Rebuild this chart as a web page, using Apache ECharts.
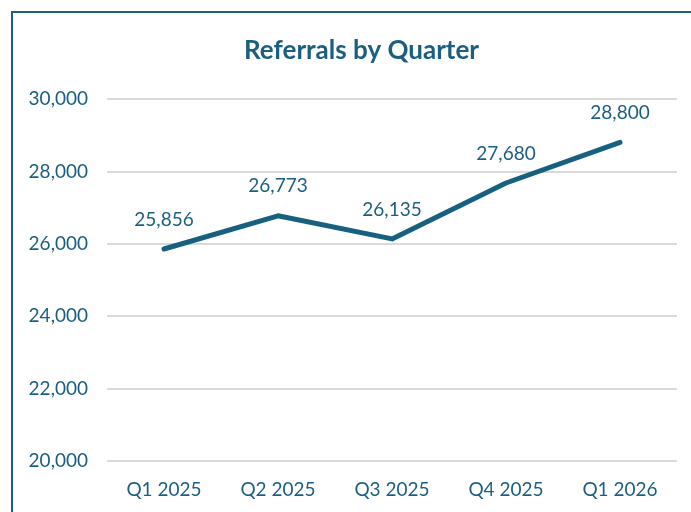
<!DOCTYPE html>
<html><head><meta charset="utf-8">
<script src="https://cdn.jsdelivr.net/npm/echarts@6/dist/echarts.min.js"></script>
<style>html,body{margin:0;padding:0;background:#fff}#c{width:691px;height:512px}
#frame{position:absolute;left:11px;top:11px;width:700px;height:520px;border:2px solid #1f5f80;box-sizing:border-box;pointer-events:none}</style>
</head><body><div id="c"></div><div id="frame"></div>
<script>
const categories = ['Q1 2025','Q2 2025','Q3 2025','Q4 2025','Q1 2026'];
const referrals = [25856, 26773, 26135, 27680, 28800];
const yTicks = {min: 20000, max: 30000, interval: 2000};
const col = '#1b5f80';
const font = 'Lato, "Open Sans", sans-serif';
const chart = echarts.init(document.getElementById('c'));
chart.setOption({
  animation: false,
  title: {text: 'Referrals by Quarter', left: 239, top: 33,
    textStyle: {color: col, fontSize: 26, fontWeight: 'bold', fontFamily: font}},
  grid: {left: 107, right: 14, top: 99, bottom: 51},
  xAxis: {type: 'category', data: categories, boundaryGap: true,
    axisLine: {show: false}, axisTick: {show: false},
    axisLabel: {color: col, fontSize: 19, fontFamily: font, margin: 19}},
  yAxis: {type: 'value', min: yTicks.min, max: yTicks.max, interval: yTicks.interval,
    axisLine: {show: false}, axisTick: {show: false},
    axisLabel: {color: col, fontSize: 19, fontFamily: font, margin: 19,
      formatter: v => v.toLocaleString('en-US')},
    splitLine: {lineStyle: {color: '#d9d9d9', width: 2}}},
  series: [{type: 'line', data: referrals, symbol: 'circle', symbolSize: 2,
    itemStyle: {color: 'rgba(0,0,0,0)', borderWidth: 0},
    lineStyle: {color: '#17607f', width: 5, cap: 'round', join: 'round'},
    label: {show: true, position: 'top', distance: 19, color: col, fontSize: 19, fontFamily: font,
      formatter: p => p.value.toLocaleString('en-US')}}]
});
</script></body></html>
